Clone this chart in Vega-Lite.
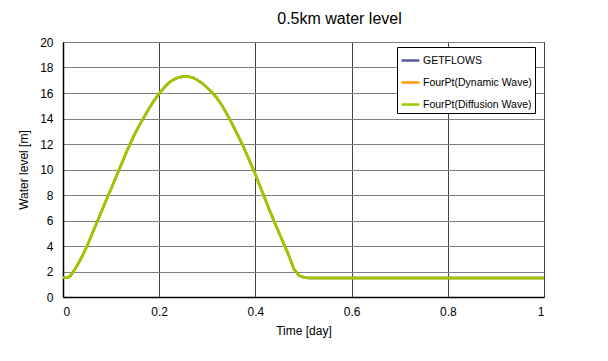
{
  "$schema": "https://vega.github.io/schema/vega-lite/v6.json",
  "width": 481,
  "height": 255,
  "autosize": {"type": "none"},
  "padding": {"left": 63, "top": 42, "right": 64, "bottom": 64},
  "background": "white",
  "title": {"text": "0.5km water level", "fontSize": 16, "font": "Liberation Sans", "fontWeight": "normal", "color": "black", "offset": 9, "anchor": "middle", "dx": 36},
  "datasets": {
    "curve": [
      {"t": 0, "v": 1.5}, {"t": 0.01, "v": 1.52}, {"t": 0.015, "v": 1.65}, {"t": 0.02, "v": 1.9},
      {"t": 0.025, "v": 2.2}, {"t": 0.03, "v": 2.5}, {"t": 0.04, "v": 3.2}, {"t": 0.05, "v": 4.0},
      {"t": 0.06, "v": 4.9}, {"t": 0.07, "v": 5.8}, {"t": 0.08, "v": 6.7}, {"t": 0.09, "v": 7.6},
      {"t": 0.1, "v": 8.5}, {"t": 0.11, "v": 9.4}, {"t": 0.12, "v": 10.3}, {"t": 0.13, "v": 11.2},
      {"t": 0.14, "v": 12.05}, {"t": 0.15, "v": 12.85}, {"t": 0.16, "v": 13.55}, {"t": 0.17, "v": 14.2},
      {"t": 0.18, "v": 14.85}, {"t": 0.19, "v": 15.45}, {"t": 0.2, "v": 15.95}, {"t": 0.21, "v": 16.4},
      {"t": 0.22, "v": 16.8}, {"t": 0.23, "v": 17.05}, {"t": 0.24, "v": 17.22}, {"t": 0.25, "v": 17.3},
      {"t": 0.26, "v": 17.3}, {"t": 0.27, "v": 17.2}, {"t": 0.28, "v": 17.0}, {"t": 0.29, "v": 16.75},
      {"t": 0.3, "v": 16.4}, {"t": 0.31, "v": 16.05}, {"t": 0.32, "v": 15.6}, {"t": 0.33, "v": 15.05},
      {"t": 0.34, "v": 14.4}, {"t": 0.35, "v": 13.7}, {"t": 0.36, "v": 12.95}, {"t": 0.37, "v": 12.2},
      {"t": 0.38, "v": 11.35}, {"t": 0.39, "v": 10.5}, {"t": 0.4, "v": 9.6}, {"t": 0.41, "v": 8.65},
      {"t": 0.42, "v": 7.7}, {"t": 0.43, "v": 6.75}, {"t": 0.44, "v": 5.85}, {"t": 0.45, "v": 4.95},
      {"t": 0.46, "v": 4.1}, {"t": 0.47, "v": 3.2}, {"t": 0.48, "v": 2.2}, {"t": 0.49, "v": 1.7},
      {"t": 0.5, "v": 1.55}, {"t": 0.51, "v": 1.5}, {"t": 0.6, "v": 1.5}, {"t": 0.8, "v": 1.5}, {"t": 1, "v": 1.5}
    ]
  },
  "data": {"name": "curve"},
  "layer": [
    {
      "transform": [{"calculate": "'GETFLOWS'", "as": "series"}],
      "mark": {"type": "line", "strokeWidth": 2.5, "clip": true},
      "encoding": {
        "x": {"field": "t", "type": "quantitative"},
        "y": {"field": "v", "type": "quantitative"},
        "color": {"field": "series", "type": "nominal"}
      }
    },
    {
      "transform": [{"calculate": "'FourPt(Dynamic Wave)'", "as": "series"}],
      "mark": {"type": "line", "strokeWidth": 2.5, "clip": true},
      "encoding": {
        "x": {"field": "t", "type": "quantitative"},
        "y": {"field": "v", "type": "quantitative"},
        "color": {"field": "series", "type": "nominal"}
      }
    },
    {
      "transform": [{"calculate": "'FourPt(Diffusion Wave)'", "as": "series"}],
      "mark": {"type": "line", "strokeWidth": 2.5, "clip": true},
      "encoding": {
        "x": {"field": "t", "type": "quantitative"},
        "y": {"field": "v", "type": "quantitative"},
        "color": {"field": "series", "type": "nominal"}
      }
    }
  ],
  "resolve": {"scale": {"color": "shared"}},
  "encoding": {
    "x": {
      "field": "t", "type": "quantitative",
      "scale": {"domain": [0, 1], "nice": false},
      "axis": {"title": "Time [day]", "values": [0, 0.2, 0.4, 0.6, 0.8, 1], "format": "~g", "gridColor": "#444444", "gridWidth": 1, "ticks": false, "labelPadding": 9, "titlePadding": 8}
    },
    "y": {
      "field": "v", "type": "quantitative",
      "scale": {"domain": [0, 20], "nice": false},
      "axis": {"title": "Water level [m]", "values": [0, 2, 4, 6, 8, 10, 12, 14, 16, 18, 20], "gridColor": "#808080", "gridWidth": 1, "ticks": false, "labelPadding": 10, "titlePadding": 9}
    },
    "color": {
      "field": "series", "type": "nominal",
      "scale": {"domain": ["GETFLOWS", "FourPt(Dynamic Wave)", "FourPt(Diffusion Wave)"], "range": ["#5a5a9c", "#ff9900", "#99cc00"]},
      "legend": {"title": null, "orient": "none", "legendX": 334, "legendY": 5, "fillColor": "white", "strokeColor": "black", "padding": 3, "symbolType": "stroke", "symbolSize": 320, "symbolStrokeWidth": 2.5, "labelFontSize": 10.5, "labelFont": "Liberation Sans", "labelColor": "black", "rowPadding": 6, "labelOffset": 2, "cornerRadius": 0}
    }
  },
  "config": {
    "view": {"stroke": "black", "strokeWidth": 1},
    "axis": {"labelFont": "Liberation Sans", "titleFont": "Liberation Sans", "labelFontSize": 12, "titleFontSize": 12, "titleFontWeight": "normal", "labelColor": "black", "titleColor": "black", "domainColor": "black", "domainWidth": 1.5}
  }
}
